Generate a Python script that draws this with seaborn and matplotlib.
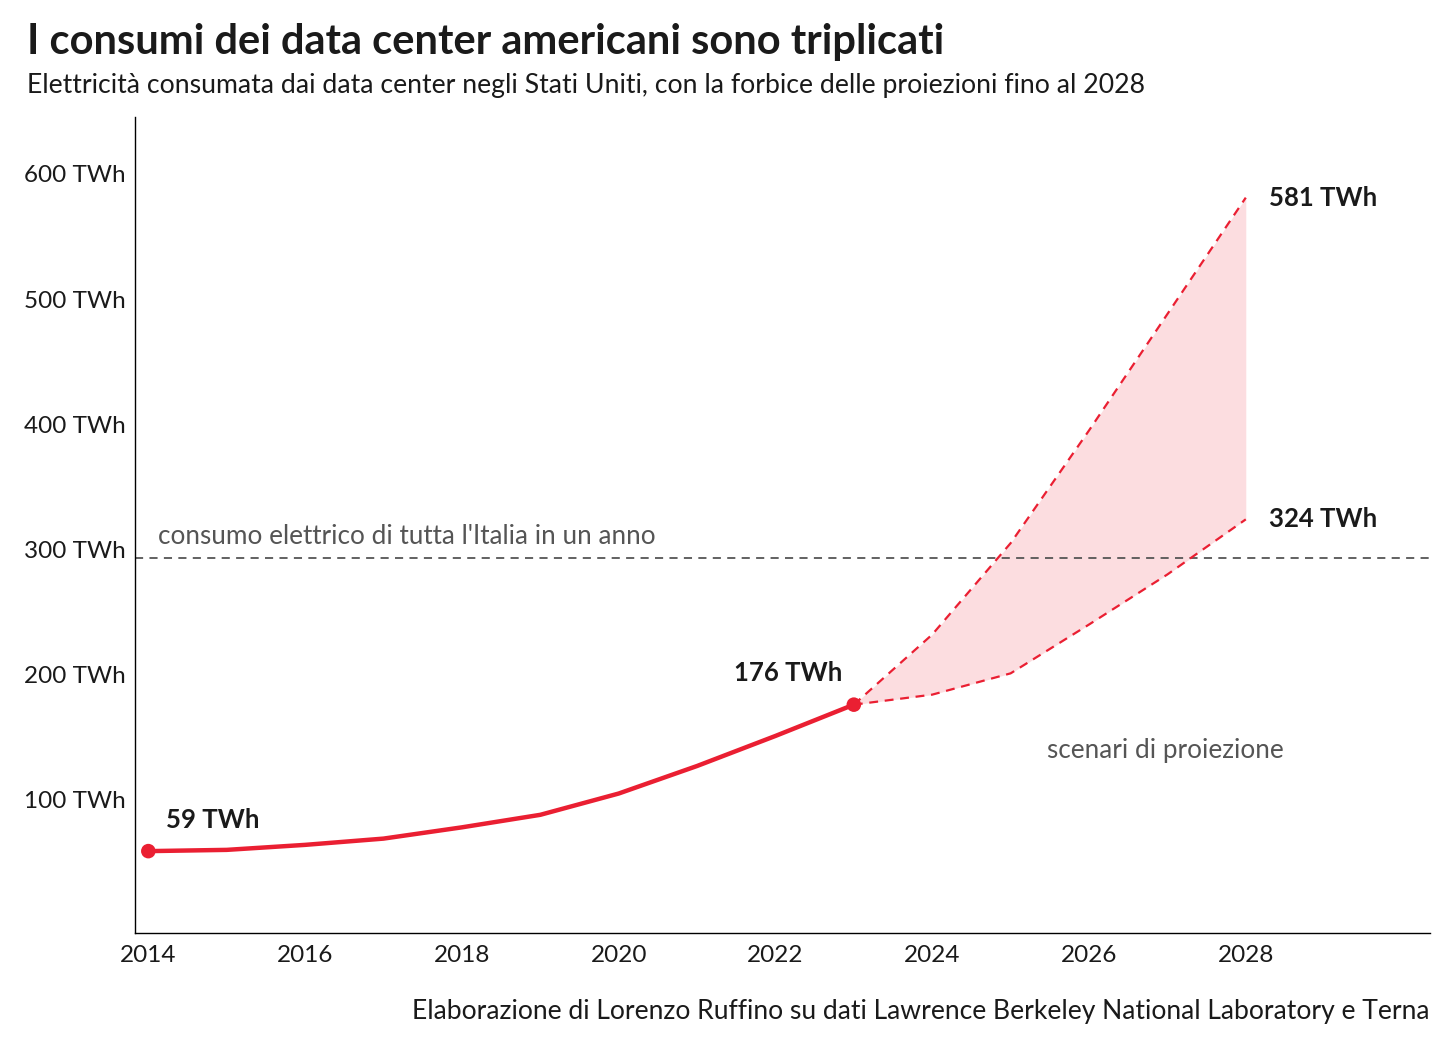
import matplotlib
matplotlib.use("Agg")
import matplotlib.pyplot as plt
import numpy as np
import pandas as pd
import seaborn as sns

# historical consumption (TWh)
years_hist = [2014, 2015, 2016, 2017, 2018, 2019, 2020, 2021, 2022, 2023]
twh_hist = [59, 60, 64, 69, 78, 88, 105, 127, 151, 176]

# projection scenarios 2023-2028
years_proj = [2023, 2024, 2025, 2026, 2027, 2028]
twh_low = [176, 184, 201, 240, 280, 324]
twh_high = [176, 232, 305, 395, 488, 581]

italy_twh = 293

y_ticks = [100, 200, 300, 400, 500, 600]
x_ticks = [2014, 2016, 2018, 2020, 2022, 2024, 2026, 2028]

RED = "#ea1f32"
PINK = "#fcdde0"
GREY = "#555555"
INK = "#1a1a1a"

sns.set_theme(style="white")
plt.rcParams["font.family"] = ["Lato", "DejaVu Sans"]

fig = plt.figure(figsize=(14.56, 10.52), dpi=100)
ax = fig.add_axes([135 / 1456, 1 - 933 / 1052, (1430 - 135) / 1456, (933 - 117) / 1052])

hist = pd.DataFrame({"year": years_hist, "twh": twh_hist})
proj = pd.DataFrame({"year": years_proj, "low": twh_low, "high": twh_high})

ax.fill_between(proj["year"], proj["low"], proj["high"], color=PINK, lw=0, zorder=1)
sns.lineplot(data=proj, x="year", y="high", ax=ax, color=RED, lw=1.6,
             linestyle=(0, (4, 3)), zorder=2)
sns.lineplot(data=proj, x="year", y="low", ax=ax, color=RED, lw=1.6,
             linestyle=(0, (4, 3)), zorder=2)
sns.lineplot(data=hist, x="year", y="twh", ax=ax, color=RED, lw=3.2, zorder=3)
ends = hist.iloc[[0, -1]]
sns.scatterplot(data=ends, x="year", y="twh", ax=ax, color=RED, s=110,
                edgecolor="none", zorder=4)

ax.axhline(italy_twh, color=GREY, lw=1.3, linestyle=(0, (4.5, 3.5)), zorder=1)

ax.set_xlim(2013.83, 2030.35)
ax.set_ylim(-6.4, 645.4)
ax.set_xticks(x_ticks)
ax.set_xticklabels([str(x) for x in x_ticks])
ax.set_yticks(y_ticks)
ax.set_yticklabels([f"{v} TWh" for v in y_ticks])
ax.tick_params(axis="both", length=0, labelsize=17.5, labelcolor=INK)
ax.tick_params(axis="y", pad=7)
ax.tick_params(axis="x", pad=9)
ax.set_xlabel("")
ax.set_ylabel("")
for side in ["top", "right"]:
    ax.spines[side].set_visible(False)
for side in ["left", "bottom"]:
    ax.spines[side].set_color("black")
    ax.spines[side].set_linewidth(1.0)

bold = dict(fontsize=18.5, fontweight="bold", color=INK, va="center")
ax.text(years_hist[0] + 0.22, twh_hist[0] + 25, f"{twh_hist[0]} TWh", ha="left", **bold)
ax.text(years_hist[-1] - 0.14, twh_hist[-1] + 25, f"{twh_hist[-1]} TWh", ha="right", **bold)
ax.text(years_proj[-1] + 0.3, twh_high[-1], f"{twh_high[-1]} TWh", ha="left", **bold)
ax.text(years_proj[-1] + 0.3, twh_low[-1], f"{twh_low[-1]} TWh", ha="left", **bold)

ax.text(2014.12, italy_twh + 17, "consumo elettrico di tutta l'Italia in un anno",
        fontsize=18.8, color=GREY, ha="left", va="center")
ax.text(2026.98, 139, "scenari di proiezione", fontsize=18.8, color=GREY,
        ha="center", va="center")

fig.text(27 / 1456, 1 - 42 / 1052, "I consumi dei data center americani sono triplicati",
         fontsize=30, fontweight="bold", color=INK, ha="left", va="center")
fig.text(27 / 1456, 1 - 85 / 1052,
         "Elettricità consumata dai data center negli Stati Uniti, con la forbice delle proiezioni fino al 2028",
         fontsize=19.2, color=INK, ha="left", va="center")
fig.text(1430 / 1456, 1 - 1012 / 1052,
         "Elaborazione di Lorenzo Ruffino su dati Lawrence Berkeley National Laboratory e Terna",
         fontsize=19.1, color=INK, ha="right", va="center")

fig.savefig("out.png", dpi=100)
